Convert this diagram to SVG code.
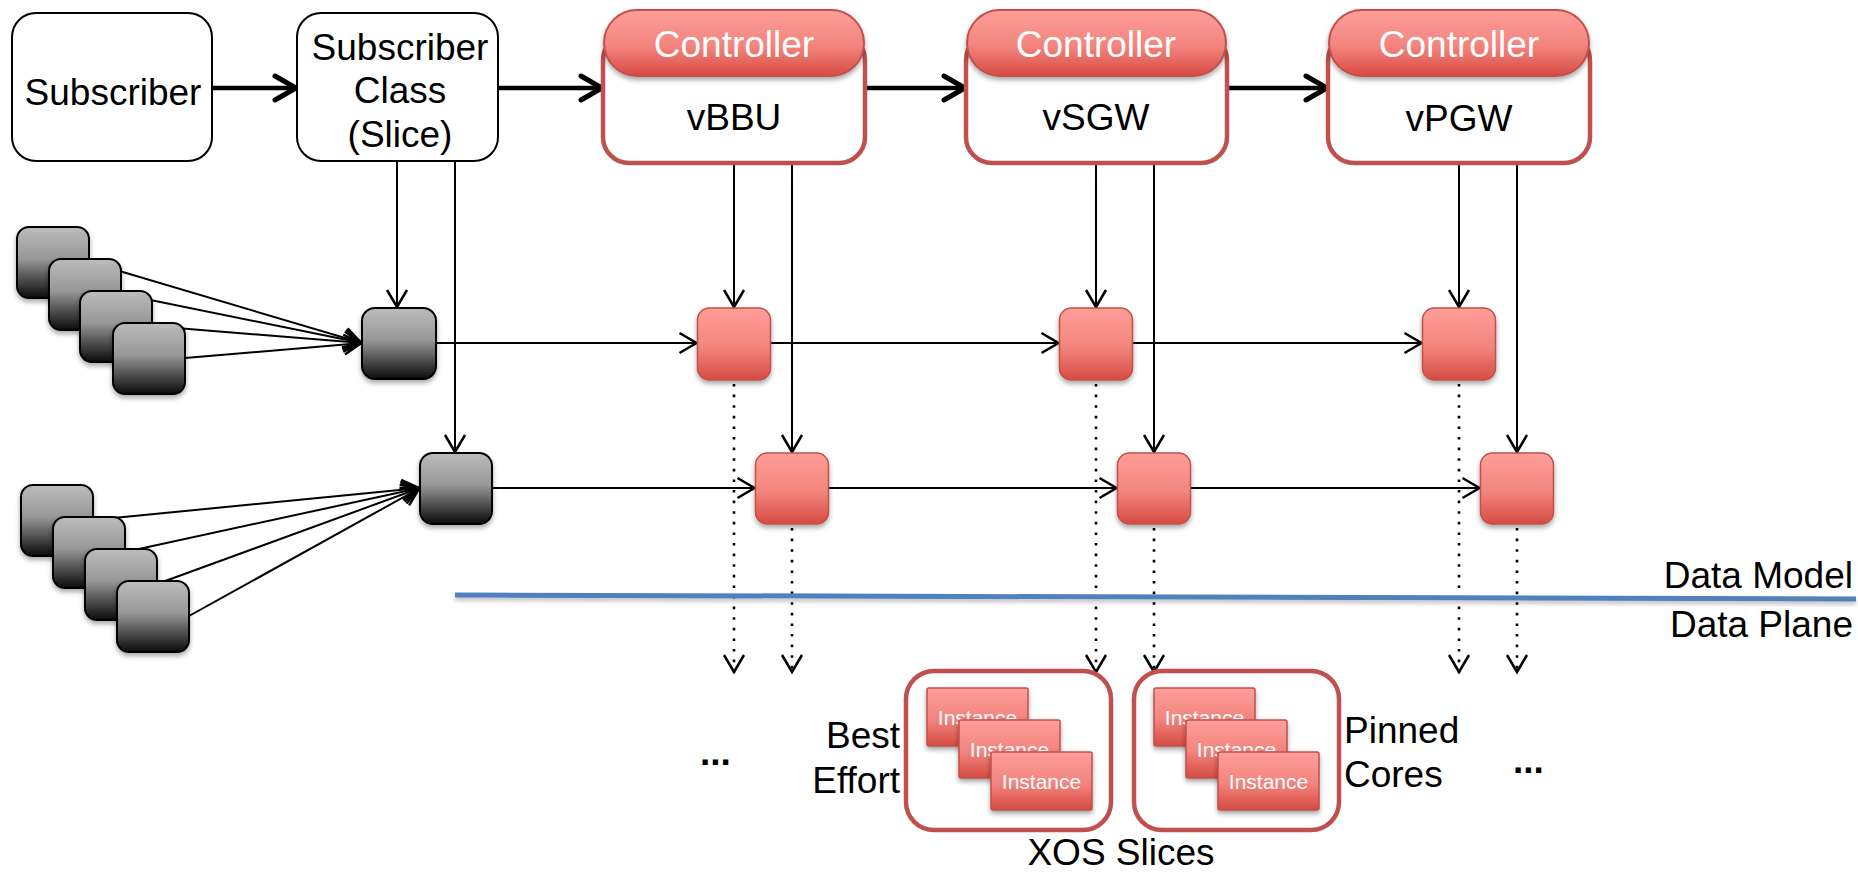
<svg xmlns="http://www.w3.org/2000/svg" width="1858" height="873" viewBox="0 0 1858 873">
  <defs>
    <linearGradient id="gGray" x1="0" y1="0" x2="0" y2="1">
      <stop offset="0" stop-color="#bcbcbc"/>
      <stop offset="0.45" stop-color="#979797"/>
      <stop offset="1" stop-color="#0a0a0a"/>
    </linearGradient>
    <linearGradient id="gRed" x1="0" y1="0" x2="0" y2="1">
      <stop offset="0" stop-color="#ff9e99"/>
      <stop offset="0.55" stop-color="#f2847d"/>
      <stop offset="1" stop-color="#d64b42"/>
    </linearGradient>
    <filter id="shadow" x="-20%" y="-20%" width="140%" height="150%">
      <feDropShadow dx="0" dy="3" stdDeviation="2.5" flood-color="#000" flood-opacity="0.35"/>
    </filter>
    <filter id="lineShadow" x="-5%" y="-200%" width="110%" height="500%">
      <feDropShadow dx="0" dy="3" stdDeviation="2" flood-color="#000" flood-opacity="0.25"/>
    </filter>
    <marker id="arrowThick" viewBox="-30 -18 34 36" refX="0" refY="0" markerWidth="34" markerHeight="36" markerUnits="userSpaceOnUse" orient="auto">
      <path d="M -22 -12 L -1 0 L -22 12" fill="none" stroke="#000" stroke-width="5" stroke-linecap="round" stroke-linejoin="miter"/>
    </marker>
    <marker id="arrowThin" viewBox="-24 -14 28 28" refX="0" refY="0" markerWidth="28" markerHeight="28" markerUnits="userSpaceOnUse" orient="auto">
      <path d="M -18 -10 L -1 0 L -18 10" fill="none" stroke="#000" stroke-width="2.5" stroke-linejoin="miter"/>
    </marker>
    <style>
      .txt { font-family: "Liberation Sans", Arial, Helvetica, sans-serif; font-size: 37px; fill: #000; }
      .mid { text-anchor: middle; }
      .end { text-anchor: end; }
      .dots { font-weight: bold; }
      .ctl { font-family: "Liberation Sans", Arial, Helvetica, sans-serif; font-size: 37px; fill: #fff; text-anchor: middle; }
      .inst { font-family: "Liberation Sans", Arial, Helvetica, sans-serif; font-size: 21px; fill: #fff; text-anchor: middle; }
      .plain { fill: #fff; stroke: #000; stroke-width: 2; }
      .gray { fill: url(#gGray); stroke: #000; stroke-width: 2; filter: url(#shadow); }
      .red { fill: url(#gRed); stroke: #c0504d; stroke-width: 1.5; filter: url(#shadow); }
      .frame { fill: #fff; stroke: #c0504d; stroke-width: 4.5; }
      .pill { fill: url(#gRed); stroke: #c0504d; stroke-width: 2; filter: url(#shadow); }
      .thick { stroke: #000; stroke-width: 4.5; fill: none; marker-end: url(#arrowThick); }
      .thin { stroke: #000; stroke-width: 2; fill: none; marker-end: url(#arrowThin); }
      .dot { stroke: #000; stroke-width: 2.6; fill: none; stroke-dasharray: 2.6 8; marker-end: url(#arrowThin); }
    </style>
  </defs>

  <rect x="0" y="0" width="1858" height="873" fill="#fff"/>

  <!-- connectors -->
  <g id="connectors">
    <!-- control chain -->
    <line class="thick" x1="212" y1="88" x2="297" y2="88"/>
    <line class="thick" x1="498" y1="88" x2="603" y2="88"/>
    <line class="thick" x1="865" y1="88" x2="966" y2="88"/>
    <line class="thick" x1="1227" y1="88" x2="1328" y2="88"/>

    <!-- configuration drops -->
    <line class="thin" x1="397" y1="161" x2="397" y2="308"/>
    <line class="thin" x1="455" y1="161" x2="455" y2="453"/>
    <line class="thin" x1="734" y1="163" x2="734" y2="308"/>
    <line class="thin" x1="792" y1="163" x2="792" y2="453"/>
    <line class="thin" x1="1096" y1="163" x2="1096" y2="308"/>
    <line class="thin" x1="1154" y1="163" x2="1154" y2="453"/>
    <line class="thin" x1="1459" y1="163" x2="1459" y2="308"/>
    <line class="thin" x1="1517" y1="163" x2="1517" y2="453"/>

    <!-- device fan-in, upper -->
    <line class="thin" x1="89" y1="262" x2="362" y2="343"/>
    <line class="thin" x1="121" y1="294" x2="362" y2="343"/>
    <line class="thin" x1="152" y1="326" x2="362" y2="343"/>
    <line class="thin" x1="185" y1="358" x2="362" y2="343"/>

    <!-- device fan-in, lower -->
    <line class="thin" x1="93" y1="520" x2="420" y2="488"/>
    <line class="thin" x1="125" y1="552" x2="420" y2="488"/>
    <line class="thin" x1="157" y1="584" x2="420" y2="488"/>
    <line class="thin" x1="189" y1="616" x2="420" y2="488"/>

    <!-- service chains -->
    <line class="thin" x1="436" y1="343" x2="697.5" y2="343"/>
    <line class="thin" x1="770.5" y1="343" x2="1059.5" y2="343"/>
    <line class="thin" x1="1132.5" y1="343" x2="1422.5" y2="343"/>
    <line class="thin" x1="492" y1="488" x2="755.5" y2="488"/>
    <line class="thin" x1="828.5" y1="488" x2="1117.5" y2="488"/>
    <line class="thin" x1="1190.5" y1="488" x2="1480.5" y2="488"/>

    <!-- mapping to data plane -->
    <line class="dot" x1="734" y1="384" x2="734" y2="673"/>
    <line class="dot" x1="792" y1="528" x2="792" y2="673"/>
    <line class="dot" x1="1096" y1="384" x2="1096" y2="673"/>
    <line class="dot" x1="1154" y1="528" x2="1154" y2="673"/>
    <line class="dot" x1="1459" y1="384" x2="1459" y2="673"/>
    <line class="dot" x1="1517" y1="528" x2="1517" y2="673"/>
  </g>

  <!-- layer divider -->
  <g id="divider">
    <line x1="455" y1="595" x2="1856" y2="599" stroke="#4f81bd" stroke-width="5" filter="url(#lineShadow)"/>
    <text class="txt end" x="1853" y="588">Data Model</text>
    <text class="txt end" x="1853" y="637">Data Plane</text>
  </g>

  <g id="subscriber">
    <rect class="plain" x="12" y="13" width="200" height="148" rx="24"/>
    <text class="txt mid" x="113" y="105">Subscriber</text>
  </g>

  <g id="subscriber-class">
    <rect class="plain" x="297" y="13" width="201" height="148" rx="24"/>
    <text class="txt mid" x="400" y="60">Subscriber</text>
    <text class="txt mid" x="400" y="103">Class</text>
    <text class="txt mid" x="400" y="147">(Slice)</text>
  </g>

  <g id="ctl-vbbu">
    <rect class="frame" x="603" y="34" width="262" height="129" rx="26"/>
    <rect class="pill" x="604" y="10" width="260" height="66" rx="33"/>
    <text class="ctl" x="734" y="57">Controller</text>
    <text class="txt mid" x="734" y="130">vBBU</text>
  </g>

  <g id="ctl-vsgw">
    <rect class="frame" x="966" y="34" width="261" height="129" rx="26"/>
    <rect class="pill" x="967" y="10" width="259" height="66" rx="33"/>
    <text class="ctl" x="1096" y="57">Controller</text>
    <text class="txt mid" x="1096" y="130">vSGW</text>
  </g>

  <g id="ctl-vpgw">
    <rect class="frame" x="1328" y="34" width="262" height="129" rx="26"/>
    <rect class="pill" x="1329" y="10" width="260" height="66" rx="33"/>
    <text class="ctl" x="1459" y="57">Controller</text>
    <text class="txt mid" x="1459" y="131">vPGW</text>
  </g>

  <g id="devices-upper">
    <rect class="gray" x="17" y="227" width="72" height="71" rx="12"/>
    <rect class="gray" x="49" y="259" width="72" height="71" rx="12"/>
    <rect class="gray" x="80" y="291" width="72" height="71" rx="12"/>
    <rect class="gray" x="113" y="323" width="72" height="71" rx="12"/>
  </g>

  <g id="devices-lower">
    <rect class="gray" x="21" y="485" width="72" height="71" rx="12"/>
    <rect class="gray" x="53" y="517" width="72" height="71" rx="12"/>
    <rect class="gray" x="85" y="549" width="72" height="71" rx="12"/>
    <rect class="gray" x="117" y="581" width="72" height="71" rx="12"/>
  </g>

  <g id="class-upper">
    <rect class="gray" x="362" y="308" width="74" height="71" rx="13"/>
  </g>
  <g id="class-lower">
    <rect class="gray" x="420" y="453" width="72" height="71" rx="13"/>
  </g>

  <g id="vbbu-upper"><rect class="red" x="697.5" y="308" width="73" height="72" rx="12"/></g>
  <g id="vsgw-upper"><rect class="red" x="1059.5" y="308" width="73" height="72" rx="12"/></g>
  <g id="vpgw-upper"><rect class="red" x="1422.5" y="308" width="73" height="72" rx="12"/></g>
  <g id="vbbu-lower"><rect class="red" x="755.5" y="453" width="73" height="71" rx="12"/></g>
  <g id="vsgw-lower"><rect class="red" x="1117.5" y="453" width="73" height="71" rx="12"/></g>
  <g id="vpgw-lower"><rect class="red" x="1480.5" y="453" width="73" height="71" rx="12"/></g>

  <g id="slice-best-effort">
    <rect class="frame" x="906" y="671" width="205" height="159" rx="28"/>
    <rect class="red" x="927" y="688" width="101" height="58" rx="2"/>
    <text class="inst" x="977.5" y="725">Instance</text>
    <rect class="red" x="959" y="720" width="101" height="58" rx="2"/>
    <text class="inst" x="1009.5" y="757">Instance</text>
    <rect class="red" x="991" y="752" width="101" height="58" rx="2"/>
    <text class="inst" x="1041.5" y="789">Instance</text>
    <text class="txt end" x="900" y="748">Best</text>
    <text class="txt end" x="900" y="793">Effort</text>
  </g>

  <g id="slice-pinned">
    <rect class="frame" x="1134" y="671" width="205" height="159" rx="28"/>
    <rect class="red" x="1154" y="688" width="101" height="58" rx="2"/>
    <text class="inst" x="1204.5" y="725">Instance</text>
    <rect class="red" x="1186" y="720" width="101" height="58" rx="2"/>
    <text class="inst" x="1236.5" y="757">Instance</text>
    <rect class="red" x="1218" y="752" width="101" height="58" rx="2"/>
    <text class="inst" x="1268.5" y="789">Instance</text>
    <text class="txt" x="1344" y="743">Pinned</text>
    <text class="txt" x="1344" y="787">Cores</text>
  </g>

  <g id="captions">
    <text class="txt dots" x="700" y="765">...</text>
    <text class="txt dots" x="1513" y="773">...</text>
    <text class="txt mid" x="1121" y="865">XOS Slices</text>
  </g>
</svg>
